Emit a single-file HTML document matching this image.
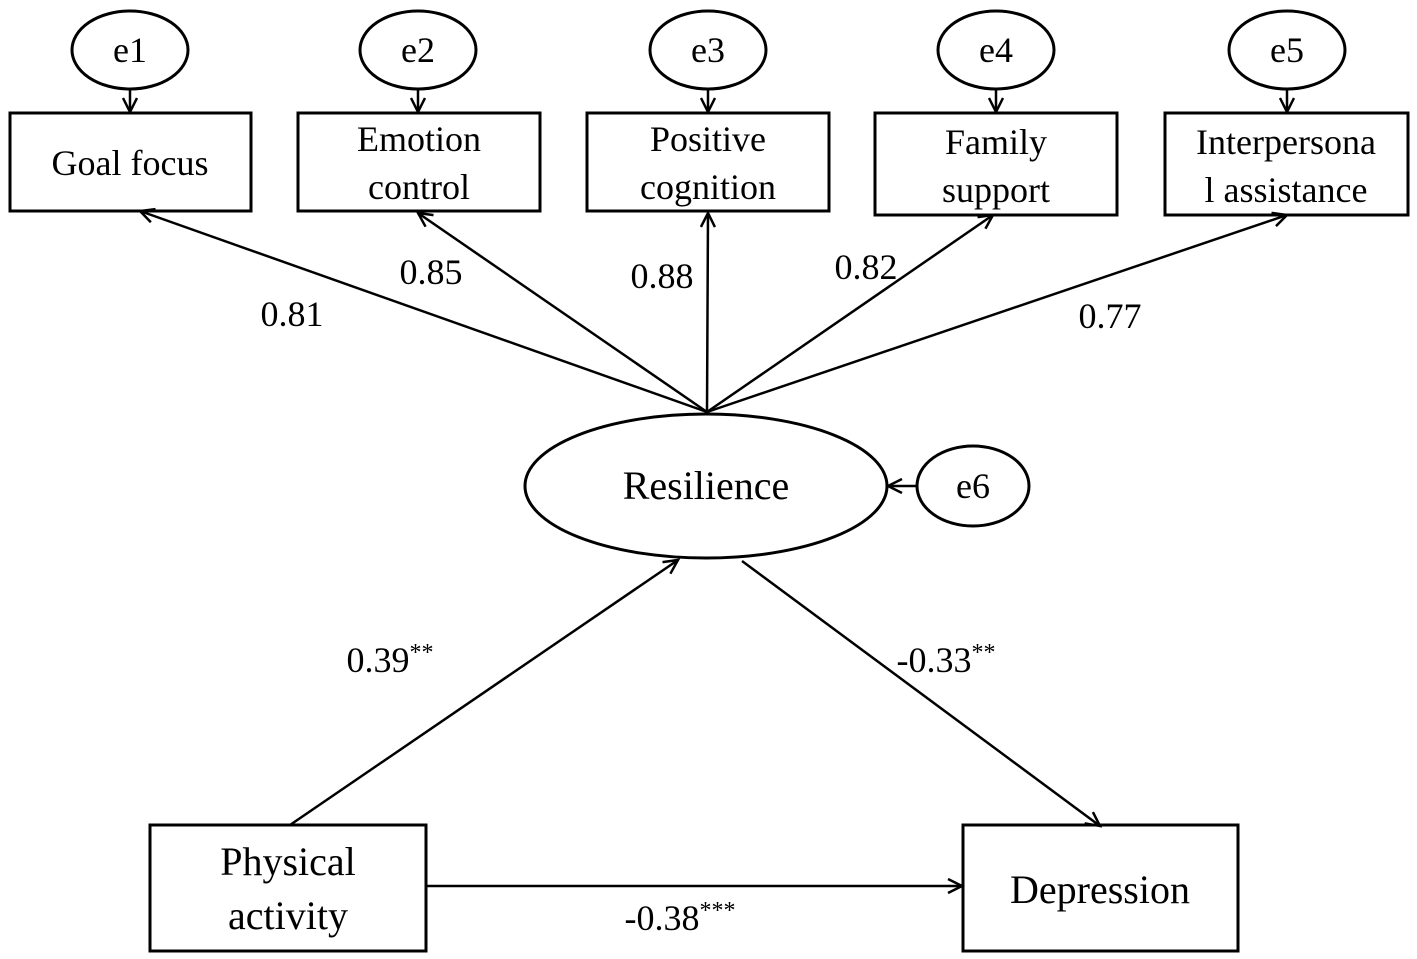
<!DOCTYPE html>
<html><head><meta charset="utf-8"><style>
html,body{margin:0;padding:0;background:#fff}
svg{display:block}
text{font-family:"Liberation Serif",serif;fill:#000}
</style></head><body>
<svg width="1417" height="959" viewBox="0 0 1417 959" xmlns="http://www.w3.org/2000/svg">
<defs>
<marker id="a" markerWidth="20" markerHeight="20" refX="15" refY="8" orient="auto" markerUnits="userSpaceOnUse">
<polyline points="1,1 15,8 1,15" fill="none" stroke="#000" stroke-width="2.5"/>
</marker>
</defs>
<g fill="#fff" stroke="#000" stroke-width="3">
<ellipse cx="130" cy="50" rx="58" ry="39"/>
<ellipse cx="418" cy="50" rx="58" ry="39"/>
<ellipse cx="708" cy="50" rx="58" ry="39"/>
<ellipse cx="996" cy="50" rx="58" ry="39"/>
<ellipse cx="1287" cy="50" rx="58" ry="39"/>
<rect x="10" y="113" width="241" height="98"/>
<rect x="298" y="113" width="242" height="98"/>
<rect x="587" y="113" width="242" height="98"/>
<rect x="875" y="113" width="242" height="102"/>
<rect x="1165" y="113" width="243" height="102"/>
<ellipse cx="706" cy="486" rx="181" ry="72"/>
<ellipse cx="973" cy="486" rx="56" ry="40"/>
<rect x="150" y="825" width="276" height="126"/>
<rect x="963" y="825" width="275" height="126"/>
</g>
<g stroke="#000" stroke-width="2.5" fill="none" marker-end="url(#a)">
<line x1="130" y1="89" x2="130" y2="112"/>
<line x1="418" y1="89" x2="418" y2="112"/>
<line x1="708" y1="89" x2="708" y2="112"/>
<line x1="996" y1="89" x2="996" y2="112"/>
<line x1="1287" y1="89" x2="1287" y2="112"/>
<line x1="707" y1="412" x2="140" y2="211"/>
<line x1="707" y1="412" x2="418" y2="213"/>
<line x1="707" y1="412" x2="708" y2="213"/>
<line x1="707" y1="412" x2="993" y2="215"/>
<line x1="707" y1="412" x2="1287" y2="215"/>
<line x1="917" y1="486" x2="888" y2="486"/>
<line x1="290" y1="825" x2="678" y2="560"/>
<line x1="742" y1="561" x2="1100" y2="826"/>
<line x1="426" y1="886" x2="962" y2="886"/>
</g>
<g font-size="36" text-anchor="middle">
<text x="130" y="62">e1</text>
<text x="418" y="62">e2</text>
<text x="708" y="62">e3</text>
<text x="996" y="62">e4</text>
<text x="1287" y="62">e5</text>
<text x="973" y="498">e6</text>
<text x="130" y="175">Goal focus</text>
<text x="419" y="151">Emotion</text>
<text x="419" y="199">control</text>
<text x="708" y="151">Positive</text>
<text x="708" y="199">cognition</text>
<text x="996" y="154">Family</text>
<text x="996" y="202">support</text>
<text x="1286" y="154">Interpersona</text>
<text x="1286" y="202">l assistance</text>
<text x="706" y="499" font-size="40">Resilience</text>
<text x="288" y="875" font-size="40">Physical</text>
<text x="288" y="929" font-size="40">activity</text>
<text x="1100" y="903" font-size="40">Depression</text>
<text x="292" y="326">0.81</text>
<text x="431" y="284">0.85</text>
<text x="662" y="288">0.88</text>
<text x="866" y="279">0.82</text>
<text x="1110" y="328">0.77</text>
<text x="390" y="672">0.39<tspan font-size="24" dy="-12">**</tspan></text>
<text x="946" y="672">-0.33<tspan font-size="24" dy="-12">**</tspan></text>
<text x="680" y="930">-0.38<tspan font-size="24" dy="-12">***</tspan></text>
</g>
</svg>
</body></html>
